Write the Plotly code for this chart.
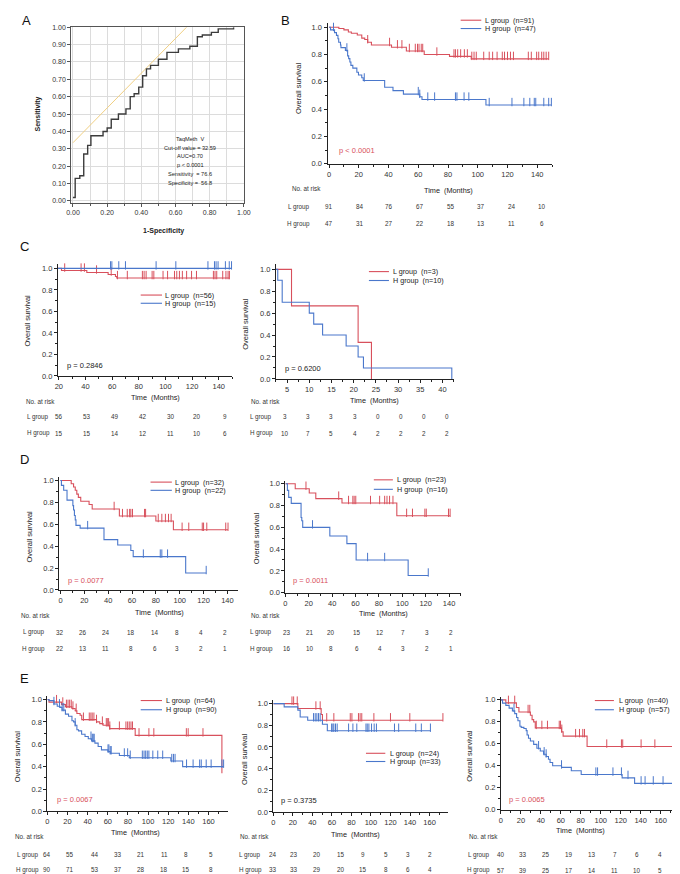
import plotly.graph_objects as go

W, H = 680, 874
FONT = "Liberation Sans, Arial, sans-serif"
RED = "#d8505c"
BLUE = "#4a77cb"
INK = "#222222"
TXT = "#333333"

# ---------------- Panel A : ROC ----------------
roc_fpr = [0.0, 0.013, 0.04, 0.063, 0.086, 0.105, 0.176, 0.2, 0.224, 0.266, 0.31, 0.335, 0.358,
           0.385, 0.408, 0.43, 0.454, 0.50, 0.55, 0.617, 0.684, 0.728, 0.757, 0.81, 0.85, 0.94]
roc_tpr = [0.02, 0.13, 0.145, 0.27, 0.32, 0.375, 0.40, 0.42, 0.47, 0.50, 0.53, 0.60, 0.617,
           0.655, 0.72, 0.76, 0.78, 0.815, 0.855, 0.875, 0.89, 0.945, 0.955, 0.97, 0.99, 1.0]
tangent_fpr = [0.0, 0.665]
tangent_tpr = [0.335, 1.0]
roc_box_lines = ["TaqMeth  V", "Cut-off value = 32.59", "AUC=0.70", "p < 0.0001",
                 "Sensitivity  = 76.6", "Specificity =  56.8"]

# ---------------- Panel B ----------------
b_L_t = [6.6, 10, 13, 15, 19, 22, 24, 26, 28.5, 42, 52, 64, 81, 95.6]
b_L_s = [0.99, 0.98, 0.965, 0.955, 0.943, 0.92, 0.91, 0.89, 0.87, 0.853, 0.826, 0.80, 0.786, 0.768]
b_L_c = [26, 40.7, 46, 49, 54, 58, 59.5, 60.5, 62, 63, 72.5, 84, 85, 86.5, 88.5, 91, 93, 96, 97.5, 99,
         104, 107.7, 110, 113, 116.5, 118, 120, 122, 124, 134, 136, 139.6, 141, 143, 144.4, 146, 147.7]
b_H_t = [1, 3.7, 5, 6, 6.5, 7.7, 8, 11, 12.5, 13.2, 14, 14.7, 16, 18.7, 19.8, 22, 23, 37.4, 43, 50,
         61, 62.5, 105.5]
b_H_s = [0.98, 0.96, 0.94, 0.915, 0.89, 0.87, 0.85, 0.83, 0.79, 0.77, 0.745, 0.72, 0.70, 0.67, 0.65,
         0.63, 0.61, 0.56, 0.535, 0.51, 0.49, 0.47, 0.43]
b_H_c = [3, 12, 23.7, 60, 61, 66.4, 71, 85, 86, 90.8, 94, 107.7, 123, 131, 135, 138, 139, 144.4,
         147.7, 149.5]
b_risk_t = [0, 21, 40, 61, 82, 102, 123, 143]
b_risk_L = [91, 84, 76, 67, 55, 37, 24, 10]
b_risk_H = [47, 31, 27, 22, 18, 13, 11, 6]

# ---------------- Panel C (left) ----------------
c1_L_t = [22, 41, 57, 62.5, 63.5]
c1_L_s = [0.98, 0.962, 0.943, 0.925, 0.91]
c1_L_c = [24.4, 36.7, 39.2, 48.3, 59.3, 64, 71.4, 82.7, 84, 85.5, 90, 91.3, 98.2, 101.6, 106.8, 108.5,
          110.5, 112.7, 115.9, 119.6, 123.3, 136, 137.2, 138.5, 143, 145.4, 147, 148]
c1_H_t = []
c1_H_s = []
c1_H_c = [58.8, 59.8, 65, 70, 93, 107.8, 131.9, 136.8, 138, 139.5, 145, 147.9, 149.6]
c1_risk_t = [20, 41, 62, 83, 104, 124, 145]
c1_risk_L = [56, 53, 49, 42, 30, 20, 9]
c1_risk_H = [15, 15, 14, 12, 11, 10, 6]

# ---------------- Panel C (right) ----------------
c2_L_t = [6, 21, 24]
c2_L_s = [0.667, 0.333, 0.0]
c2_L_c = []
c2_H_t = [2.9, 3.9, 10, 11, 13, 18.3, 21, 22.2, 42.1]
c2_H_s = [0.9, 0.7, 0.6, 0.5, 0.4, 0.3, 0.2, 0.1, 0.0]
c2_H_c = []
c2_risk_t = [4.5, 9.7, 15, 20.2, 25.4, 30.6, 35.9, 41.1]
c2_risk_L = [3, 3, 3, 3, 0, 0, 0, 0]
c2_risk_H = [10, 7, 5, 4, 2, 2, 2, 2]

# ---------------- Panel D (left) ----------------
d1_L_t = [9, 11, 12.4, 13.7, 15, 17, 24, 26.6, 49.4, 80, 94.7]
d1_L_s = [0.97, 0.94, 0.91, 0.875, 0.845, 0.81, 0.78, 0.74, 0.675, 0.63, 0.55]
d1_L_c = [45, 52, 56, 58, 59, 60.4, 70.5, 71.4, 82, 85, 88, 90.6, 92.8, 102, 107.6, 118.9, 120, 122.7,
          138.6, 140.5]
d1_H_t = [0.8, 2.7, 5.5, 10.4, 11, 11.7, 12.4, 13, 16.5, 36.5, 48, 59, 61, 105]
d1_H_s = [0.955, 0.91, 0.82, 0.77, 0.73, 0.68, 0.64, 0.59, 0.565, 0.46, 0.41, 0.36, 0.305, 0.155]
d1_H_c = [22.8, 69.5, 83.7, 85, 89.8, 122.2]
d1_risk_t = [0, 19, 38, 59, 79, 98, 118, 138]
d1_risk_L = [32, 26, 24, 18, 14, 8, 4, 2]
d1_risk_H = [22, 13, 11, 8, 6, 3, 2, 1]

# ---------------- Panel D (right) ----------------
d2_L_t = [8.4, 20.4, 26, 48.4, 95.3]
d2_L_s = [0.955, 0.915, 0.864, 0.824, 0.706]
d2_L_c = [17.6, 45.6, 54, 57.7, 58.8, 60.2, 72.8, 80.6, 84.9, 86.9, 89.1, 92, 103.7, 108.7, 119.3,
          120.5, 139.5, 140.9]
d2_H_t = [1.7, 2.8, 5, 13.4, 14, 14.8, 38, 52.6, 60.5, 105]
d2_H_s = [0.94, 0.875, 0.82, 0.69, 0.66, 0.6, 0.52, 0.45, 0.30, 0.158]
d2_H_c = [23.2, 70.3, 84.9, 122.2]
d2_risk_t = [1, 21, 39, 61, 81, 101, 121, 142]
d2_risk_L = [23, 21, 20, 15, 12, 7, 3, 2]
d2_risk_H = [16, 10, 8, 6, 4, 3, 2, 1]

# ---------------- Panel E (left) ----------------
e1_L_t = [1.6, 14, 17.9, 24.4, 27.6, 29.3, 32.5, 34.1, 48.8, 52, 55.3, 61.8, 87.2, 173.3]
e1_L_s = [0.977, 0.956, 0.935, 0.92, 0.90, 0.875, 0.86, 0.82, 0.80, 0.785, 0.77, 0.74, 0.68, 0.34]
e1_L_c = [9.1, 15.3, 18.9, 20.5, 22.1, 23.7, 25.4, 28.6, 35.8, 41.6, 43.2, 44.5, 46.2, 48.8, 54.6,
          58.5, 59.5, 60.8, 62, 71.5, 78, 79.7, 81.3, 83, 84.5, 91, 100.8, 105.7, 138, 139.8, 154.5]
e1_H_t = [1.6, 6.5, 9.8, 12.4, 14.6, 17.9, 21, 24.4, 26, 27.6, 29.3, 30.9, 34, 37.4, 40.6, 43.9,
          47.2, 50.4, 53.7, 60.2, 62.4, 71.5, 81.3, 122.6, 134.3]
e1_H_s = [0.99, 0.96, 0.94, 0.93, 0.905, 0.87, 0.85, 0.81, 0.80, 0.77, 0.73, 0.72, 0.69, 0.67, 0.65,
          0.63, 0.61, 0.58, 0.55, 0.535, 0.52, 0.50, 0.48, 0.45, 0.40]
e1_H_c = [6.5, 12, 14.6, 16.3, 27.6, 43.3, 44.6, 45.5, 46.5, 60.2, 61.1, 62.4, 63.4, 76.4, 79.7, 82.3,
          94.3, 96, 97.6, 99.2, 100.8, 104.7, 109.6, 114.5, 123.5, 125.2, 126.8, 138.2, 144.7, 151.2,
          152.8, 157.7, 162.6, 173.3, 175]
e1_risk_t = [0, 22, 47, 70, 93, 116, 138, 162]
e1_risk_L = [64, 55, 44, 33, 21, 11, 8, 5]
e1_risk_H = [90, 71, 53, 37, 28, 18, 15, 8]

# ---------------- Panel E (middle) ----------------
e2_L_t = [25.1, 49, 50.3]
e2_L_s = [0.955, 0.90, 0.846]
e2_L_c = [19.1, 20.8, 24.5, 43.6, 48, 54.7, 62, 78.8, 80.5, 87.2, 88.9, 90.6, 103, 120, 139.8, 173.7]
e2_H_t = [11.1, 25.1, 27.5, 35.2, 50.3, 55.3]
e2_H_s = [0.97, 0.94, 0.876, 0.846, 0.81, 0.75]
e2_H_c = [41.2, 42.9, 44.6, 46.3, 48, 59.7, 61, 62, 63.7, 65.4, 77.1, 81.5, 85.5, 94.9, 96.2, 97.9,
          100.6, 103.3, 105.6, 124.1, 128.4, 145.9, 151.6, 160.9]
e2_risk_t = [0, 21, 45, 69, 92, 115, 138, 160]
e2_risk_L = [24, 23, 20, 15, 9, 5, 3, 2]
e2_risk_H = [33, 33, 29, 20, 15, 8, 6, 4]

# ---------------- Panel E (right) ----------------
e3_L_t = [4.9, 15.5, 18, 29.5, 31.2, 32.8, 34.4, 60.7, 62.3, 86.3, 172.2]
e3_L_s = [0.973, 0.93, 0.89, 0.86, 0.82, 0.80, 0.745, 0.71, 0.67, 0.575, 0.0]
e3_L_c = [7.5, 13.8, 27.2, 28.9, 35.4, 41, 46.6, 58.4, 59.7, 61, 74.8, 78.7, 82, 83.7, 106, 120.7,
          122, 140.4, 154.2]
e3_H_t = [1.6, 4.9, 8.2, 11.5, 13.8, 15.7, 17, 19, 20.3, 23, 25.3, 26.2, 27.6, 29.5, 32.8, 36, 39.4,
          42.7, 45.3, 47.6, 49.2, 51.8, 60.7, 70.5, 80.4, 121.4, 133.9]
e3_H_s = [0.97, 0.95, 0.925, 0.90, 0.875, 0.84, 0.81, 0.76, 0.75, 0.74, 0.72, 0.68, 0.65, 0.625,
          0.595, 0.56, 0.535, 0.505, 0.485, 0.46, 0.43, 0.40, 0.385, 0.355, 0.32, 0.29, 0.24]
e3_H_c = [13.1, 37.7, 43.3, 45.3, 60.7, 95.1, 96.8, 112.2, 120.7, 127.3, 140.4, 144.4, 152.6, 162.4,
          173.2]
e3_risk_t = [0, 22, 45, 68, 91, 114, 136, 159]
e3_risk_L = [40, 33, 25, 19, 13, 7, 6, 4]
e3_risk_H = [57, 39, 25, 17, 14, 11, 10, 5]


# ---------------- helpers ----------------
def px(x, y):
    return x / W, 1 - y / H


def ann(x, y, text, size=7, color=TXT, xanchor="center", bold=False, angle=0):
    X, Y = px(x, y)
    if bold:
        text = "<b>" + text + "</b>"
    return dict(x=X, y=Y, xref="paper", yref="paper", text=text, showarrow=False,
                xanchor=xanchor, yanchor="middle", textangle=angle,
                font=dict(size=size, color=color, family=FONT))


def step_curve(t, s, cens):
    end = max(list(t) + list(cens)) if (t or cens) else 0
    xs = [0] + list(t) + [end]
    ys = [1.0] + list(s) + [s[-1] if s else 1.0]
    return xs, ys


def surv_at(t, s, c):
    v = 1.0
    for ti, si in zip(t, s):
        if ti <= c:
            v = si
    return v


fig = go.Figure()
annotations = []
shapes = []
layout_axes = {}


def axis_names(k):
    return ("xaxis" if k == 1 else f"xaxis{k}", "yaxis" if k == 1 else f"yaxis{k}",
            "x" if k == 1 else f"x{k}", "y" if k == 1 else f"y{k}")


# ---------------- Panel A build ----------------
xa, ya, xr, yr = axis_names(1)
fig.add_trace(go.Scatter(x=tangent_fpr, y=tangent_tpr, mode="lines",
                         line=dict(color="#f0cf82", width=1), xaxis=xr, yaxis=yr))
fig.add_trace(go.Scatter(x=roc_fpr, y=roc_tpr, mode="lines", line_shape="hv",
                         line=dict(color="#3c3c3c", width=1.4), xaxis=xr, yaxis=yr))
A_dom = (59.3, 235, 15.3, 192.7)
common_A = dict(showline=True, mirror=True, linecolor="#555", linewidth=1, ticks="outside",
                ticklen=3, tickcolor="#555", zeroline=False, showgrid=True, gridcolor="#dcdcdc",
                gridwidth=1, tickfont=dict(size=7, color=TXT, family=FONT), tickformat=".2f",
                fixedrange=True)
layout_axes[xa] = dict(common_A, domain=[A_dom[0] / W, A_dom[1] / W], range=[-0.01, 1.0],
                       dtick=0.2, tick0=0, anchor=yr,
                       minor=dict(dtick=0.1, showgrid=True, gridcolor="#dcdcdc", ticks="outside",
                                  ticklen=2, tickcolor="#555"))
layout_axes[ya] = dict(common_A, domain=[1 - A_dom[3] / H, 1 - A_dom[2] / H], range=[-0.01, 1.0],
                       dtick=0.1, tick0=0, anchor=xr)
x0, y0 = px(148, 120)
x1, y1 = px(233.5, 183)
shapes.append(dict(type="rect", xref="paper", yref="paper", x0=x0, y0=y1, x1=x1, y1=y0,
                   fillcolor="white", line=dict(width=0), layer="between"))
for i, line in enumerate(roc_box_lines):
    annotations.append(ann(180.5, 128 + 9 * i, line, size=5.6, color="#222"))
annotations.append(ann(25, 103, "Sensitivity", size=7, color="#222", bold=True, angle=-90))
annotations.append(ann(153, 221, "1-Specificity", size=7, color="#222", bold=True))
annotations.append(ann(14, 9, "A", size=13, color="#111"))

# ---------------- KM panels ----------------
panels = [
    dict(k=2, letter=("B", 277, 9),
         dom=(320.2, 548.8, 11.2, 153.3), xrng=[-1, 150], yrng=[0, 1.03], dtick=20, minor=10,
         L=(b_L_t, b_L_s, b_L_c), Hh=(b_H_t, b_H_s, b_H_c),
         nL=91, nH=47, leg=(455.7, 476.7, 478, 8.3, 16.7),
         p=("p < 0.0001", RED, 330, 140), ytitle=(290, 77), xtitle=(443, 180),
         risk=(b_risk_t, b_risk_L, b_risk_H), nar=(299, 178.7), rowlab=291, rows=(197, 214)),
    dict(k=3, letter=("C", 12, 237),
         dom=(45.7, 223, 254.7, 367.7), xrng=[19.3, 150], yrng=[0, 1.04], dtick=20, minor=10,
         L=(c1_L_t, c1_L_s, c1_L_c), Hh=(c1_H_t, c1_H_s, c1_H_c),
         nL=56, nH=15, leg=(130, 151.7, 152.7, 286, 294.3),
         p=("p = 0.2846", "#222", 53.3, 356.7), ytitle=(15, 312), xtitle=(145, 390),
         risk=(c1_risk_t, c1_risk_L, c1_risk_H), nar=(28, 393.3), rowlab=25.8, rows=(409, 425.7)),
    dict(k=4, letter=None,
         dom=(267.7, 448.5, 254.5, 370.7), xrng=[2.5, 42.5], yrng=[0, 1.05], dtick=5, minor=2.5,
         L=(c2_L_t, c2_L_s, c2_L_c), Hh=(c2_H_t, c2_H_s, c2_H_c),
         nL=3, nH=10, leg=(362.3, 382.7, 384.3, 262.3, 271.3),
         p=("p = 0.6200", "#222", 275.3, 360), ytitle=(237.3, 315), xtitle=(368.2, 392.7),
         risk=(c2_risk_t, c2_risk_L, c2_risk_H), nar=(257, 393.3), rowlab=252.5, rows=(409, 425.7)),
    dict(k=5, letter=("D", 12, 452),
         dom=(47.1, 229.2, 470, 584), xrng=[-1, 149], yrng=[0, 1.03], dtick=20, minor=10,
         L=(d1_L_t, d1_L_s, d1_L_c), Hh=(d1_H_t, d1_H_s, d1_H_c),
         nL=32, nH=22, leg=(140, 161.7, 162.7, 475, 483.3),
         p=("p = 0.0077", RED, 54.3, 574), ytitle=(17.3, 530), xtitle=(148.8, 606.7),
         risk=(d1_risk_t, d1_risk_L, d1_risk_H), nar=(22.8, 609.3), rowlab=21, rows=(626.7, 643.3)),
    dict(k=6, letter=None,
         dom=(277.3, 455.8, 473.4, 586.7), xrng=[0, 150], yrng=[0, 1.03], dtick=20, minor=10,
         L=(d2_L_t, d2_L_s, d2_L_c), Hh=(d2_H_t, d2_H_s, d2_H_c),
         nL=23, nH=16, leg=(367.3, 386.7, 389.3, 472.7, 482.3),
         p=("p = 0.0011", RED, 283.3, 574), ytitle=(247.3, 531.7), xtitle=(376.8, 607.3),
         risk=(d2_risk_t, d2_risk_L, d2_risk_H), nar=(257, 609.3), rowlab=252.5, rows=(626.7, 643.3)),
    dict(k=7, letter=("E", 12, 673.3),
         dom=(35, 218.5, 691.3, 807.7), xrng=[0, 179], yrng=[0, 1.03], dtick=20, minor=10,
         L=(e1_L_t, e1_L_s, e1_L_c), Hh=(e1_H_t, e1_H_s, e1_H_c),
         nL=64, nH=90, leg=(130, 151.7, 153.5, 695.7, 705),
         p=("p = 0.0067", RED, 42.7, 796), ytitle=(5.5, 751.7), xtitle=(124.7, 829.3),
         risk=(e1_risk_t, e1_risk_L, e1_risk_H), nar=(16.7, 832.7), rowlab=14.8, rows=(851.7, 866.7)),
    dict(k=8, letter=None,
         dom=(265, 442.9, 695.5, 808.3), xrng=[0, 179], yrng=[0, 1.03], dtick=20, minor=10,
         L=(e2_L_t, e2_L_s, e2_L_c), Hh=(e2_H_t, e2_H_s, e2_H_c),
         nL=24, nH=33, leg=(359.3, 379, 381.7, 749, 757.3),
         p=("p = 0.3735", "#222", 270.7, 797), ytitle=(235, 755), xtitle=(348.3, 830.7),
         risk=(e2_risk_t, e2_risk_L, e2_risk_H), nar=(246, 832.7), rowlab=241.7, rows=(851.7, 866.7)),
    dict(k=9, letter=None,
         dom=(496.7, 678.6, 691.7, 806), xrng=[0, 179], yrng=[0, 1.03], dtick=20, minor=10,
         L=(e3_L_t, e3_L_s, e3_L_c), Hh=(e3_H_t, e3_H_s, e3_H_c),
         nL=40, nH=57, leg=(592.3, 611.7, 614.5, 695.7, 705),
         p=("p = 0.0065", RED, 502.7, 795.7), ytitle=(465, 751.7), xtitle=(577.3, 827.3),
         risk=(e3_risk_t, e3_risk_L, e3_risk_H), nar=(479, 832.7), rowlab=474, rows=(851.7, 867.3)),
]

for P in panels:
    xa, ya, xr, yr = axis_names(P["k"])
    d = P["dom"]
    # censor ticks rise ~3px above the curve level
    tick_lift = 3.0 * (P["yrng"][1] - P["yrng"][0]) / (d[3] - d[2])
    for (t, s, c), col in ((P["L"], RED), (P["Hh"], BLUE)):
        xs, ys = step_curve(t, s, c)
        fig.add_trace(go.Scatter(x=xs, y=ys, mode="lines", line_shape="hv",
                                 line=dict(color=col, width=1.1), xaxis=xr, yaxis=yr))
        if c:
            cy = [surv_at(t, s, ci) + tick_lift for ci in c]
            fig.add_trace(go.Scatter(x=c, y=cy, mode="markers", cliponaxis=False,
                                     marker=dict(symbol="line-ns", size=6,
                                                 line=dict(color=col, width=1)),
                                     xaxis=xr, yaxis=yr))
    common = dict(showline=True, linecolor=INK, linewidth=1, ticks="outside", ticklen=3,
                  tickcolor=INK, tickwidth=1, zeroline=False, showgrid=False,
                  tickfont=dict(size=7.5, color=TXT, family=FONT), fixedrange=True)
    layout_axes[xa] = dict(common, domain=[d[0] / W, d[1] / W], range=P["xrng"], anchor=yr,
                           dtick=P["dtick"], tick0=0,
                           minor=dict(dtick=P["minor"], ticks="outside", ticklen=2, tickcolor=INK))
    layout_axes[ya] = dict(common, domain=[1 - d[3] / H, 1 - d[2] / H], range=P["yrng"], anchor=xr,
                           dtick=0.2, tick0=0, tickformat=".1f",
                           minor=dict(dtick=0.1, ticks="outside", ticklen=2, tickcolor=INK))
    # legend
    lx0, lx1, ltx, ly1, ly2 = P["leg"]
    for yy, col, lab in ((ly1, RED, f"L group  (n={P['nL']})"), (ly2, BLUE, f"H group  (n={P['nH']})")):
        a0, b0 = px(lx0, yy)
        a1, _ = px(lx1, yy)
        shapes.append(dict(type="line", xref="paper", yref="paper", x0=a0, x1=a1, y0=b0, y1=b0,
                           line=dict(color=col, width=1.1)))
        annotations.append(ann(ltx, yy, lab, size=7.2, color="#222", xanchor="left"))
    ptxt, pcol, pxx, pyy = P["p"]
    annotations.append(ann(pxx, pyy, ptxt, size=7.5, color=pcol, xanchor="left"))
    annotations.append(ann(P["ytitle"][0], P["ytitle"][1], "Overall survival", size=7.5,
                           color="#222", angle=-90))
    annotations.append(ann(P["xtitle"][0], P["xtitle"][1], "Time  (Months)", size=7.3, color="#222"))
    annotations.append(ann(P["nar"][0], P["nar"][1], "No. at risk", size=6.3, color=TXT))
    annotations.append(ann(P["rowlab"], P["rows"][0], "L group", size=6.3, color=TXT))
    annotations.append(ann(P["rowlab"], P["rows"][1], "H group", size=6.3, color=TXT))
    rt, rL, rH = P["risk"]
    for row_y, vals in ((P["rows"][0], rL), (P["rows"][1], rH)):
        for tt, v in zip(rt, vals):
            annotations.append(dict(x=tt, xref=xr, y=1 - row_y / H, yref="paper", text=str(v),
                                    showarrow=False, xanchor="center", yanchor="middle",
                                    font=dict(size=6.3, color=TXT, family=FONT)))
    if P["letter"]:
        L_, lx, ly = P["letter"]
        annotations.append(ann(lx, ly, L_, size=13, color="#111"))

fig.update_layout(width=W, height=H, margin=dict(l=0, r=0, t=0, b=0),
                  paper_bgcolor="white", plot_bgcolor="white", showlegend=False,
                  font=dict(family=FONT, color=TXT), annotations=annotations, shapes=shapes,
                  **layout_axes)
fig.write_html("out.html")
